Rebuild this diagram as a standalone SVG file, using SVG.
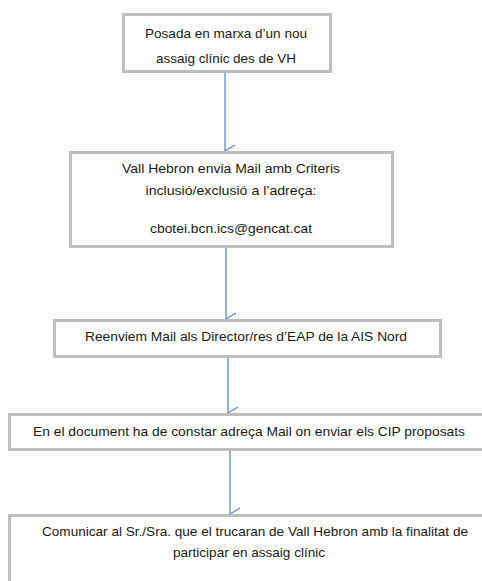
<svg xmlns="http://www.w3.org/2000/svg" width="482" height="581" viewBox="0 0 482 581">
<defs>
<marker id="arr" markerWidth="16" markerHeight="16" refX="8" refY="12" orient="auto" markerUnits="userSpaceOnUse" viewBox="0 0 16 16">
<path d="M2,2 L8,12 L14,2" fill="none" stroke="#5B8FD3" stroke-width="1.2"/>
</marker>
</defs>
<style>
.box{fill:#ffffff;stroke:#BFBFBF;stroke-width:3}
.t{font-family:"Liberation Sans",Arial,sans-serif;font-size:13px;fill:#1a1a1a;text-anchor:middle}
.c{stroke:#5B8FD3;stroke-width:1.3;fill:none}
</style>
<rect width="482" height="581" fill="#ffffff"/>
<g id="connectors">
<line class="c" x1="225" y1="73" x2="225" y2="151" marker-end="url(#arr)"/>
<line class="c" x1="226" y1="248" x2="226" y2="319" marker-end="url(#arr)"/>
<line class="c" x1="228" y1="357" x2="228" y2="413" marker-end="url(#arr)"/>
<line class="c" x1="230" y1="450" x2="230" y2="514" marker-end="url(#arr)"/>
</g>
<g id="n1">
<rect class="box" x="123.5" y="14.5" width="207" height="57"/>
<text class="t" x="226" y="38" textLength="162" lengthAdjust="spacingAndGlyphs">Posada en marxa d’un nou</text>
<text class="t" x="226" y="63" textLength="140" lengthAdjust="spacingAndGlyphs">assaig clínic des de VH</text>
</g>
<g id="n2">
<rect class="box" x="70.5" y="152.5" width="322" height="94"/>
<text class="t" x="231" y="173" textLength="218" lengthAdjust="spacingAndGlyphs">Vall Hebron envia Mail amb Criteris</text>
<text class="t" x="231" y="195" textLength="171" lengthAdjust="spacingAndGlyphs">inclusió/exclusió a l’adreça:</text>
<text class="t" x="231" y="233" textLength="162" lengthAdjust="spacingAndGlyphs">cbotei.bcn.ics@gencat.cat</text>
</g>
<g id="n3">
<rect class="box" x="54.5" y="320.5" width="386" height="36"/>
<text class="t" x="246" y="341" textLength="322" lengthAdjust="spacingAndGlyphs">Reenviem Mail als Director/res d’EAP de la AIS Nord</text>
</g>
<g id="n4">
<rect class="box" x="9.5" y="414.5" width="490" height="35"/>
<text class="t" x="249" y="436" textLength="432" lengthAdjust="spacingAndGlyphs">En el document ha de constar adreça Mail on enviar els CIP proposats</text>
</g>
<g id="n5">
<rect class="box" x="9.5" y="515.5" width="490" height="100"/>
<text class="t" x="255" y="536" textLength="426" lengthAdjust="spacingAndGlyphs">Comunicar al Sr./Sra. que el trucaran de Vall Hebron amb la finalitat de</text>
<text class="t" x="249" y="557" textLength="152" lengthAdjust="spacingAndGlyphs">participar en assaig clínic</text>
</g>
</svg>
